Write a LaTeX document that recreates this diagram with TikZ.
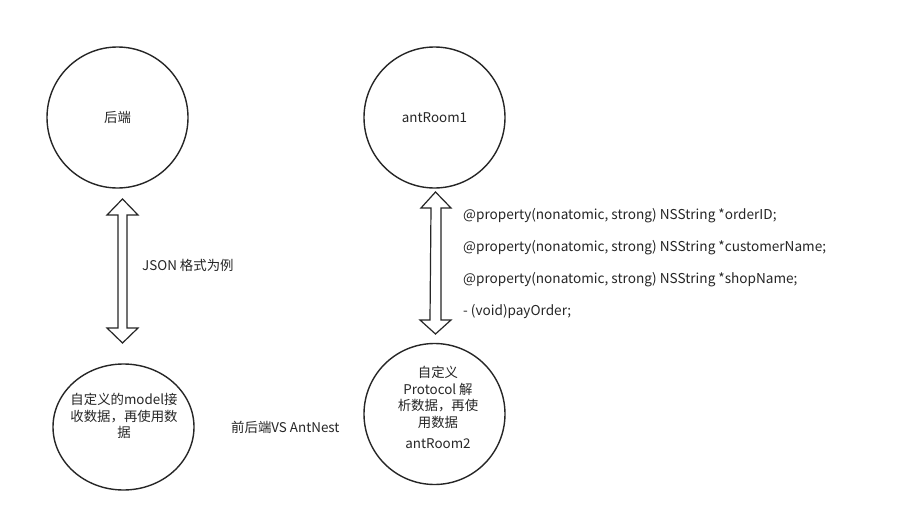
\documentclass[tikz,border=0pt]{standalone}
\usepackage{fontspec}
\usetikzlibrary{shapes.geometric}
\setmainfont{Noto Sans CJK SC}
\begin{document}
\begin{tikzpicture}[x=1pt,y=-1pt,
  circ/.style={draw=black!85,line width=1.4pt},
  lbl/.style={font=\fontsize{13.4}{16.5}\selectfont,text=black!85,align=center,inner sep=0},
  code/.style={font=\fontsize{13.6}{15}\selectfont,text=black!85,anchor=west,inner sep=0},
  dblarrow/.style={draw=black!85,line width=1.2pt,fill=white}]
\useasboundingbox (0,0) rectangle (906,522);
\fill[white] (0,0) rectangle (906,522);
\node[circ,circle,minimum size=141pt,inner sep=0] (be) at (117.5,117.5) {};
\node[lbl] at (be.center) {后端};
\node[circ,circle,minimum size=141pt,inner sep=0] (r1) at (434.5,117.5) {};
\node[lbl] at (r1.center) {antRoom1};
\node[circ,ellipse,minimum width=141pt,minimum height=126pt,inner sep=0] (md) at (123.5,427) {};
\node[lbl] (mdt) at (124,416) {自定义的model接\\收数据，再使用数\\据};
\node[circ,circle,minimum size=141pt,inner sep=0] (r2) at (434.5,414) {};
\node[lbl] (r2t) at (438,397.5) {自定义\\Protocol 解\\析数据，再使\\用数据};
\node[lbl] (r2n) at (438,444) {antRoom2};
% double arrows
\coordinate (a1t) at (122.5,199);
\coordinate (a1b) at (122.5,343);
\draw[dblarrow] (a1t) -- ++(15.5,16) -- ++(-11,0) -- (127,328) -- ++(11,0) -- (a1b) -- ++(-15.5,-15) -- ++(11,0) -- (118,215) -- ++(-11,0) -- cycle;
\coordinate (a2t) at (435.5,192);
\coordinate (a2b) at (435.5,334);
\draw[dblarrow] (a2t) -- ++(15.5,16) -- ++(-10,0) -- (441,320) -- ++(10,0) -- (a2b) -- ++(-15.5,-14) -- ++(10,0) -- (431,208) -- ++(-10,0) -- cycle;
\node[lbl,anchor=west] (json) at (142,265) {JSON 格式为例};
\node[lbl,anchor=west] (vs) at (231,427) {前后端VS AntNest};
\node[code] (c1) at (463,216) {@property(nonatomic, strong) NSString *orderID;};
\node[code] (c2) at (463,248) {@property(nonatomic, strong) NSString *customerName;};
\node[code] (c3) at (463,280) {@property(nonatomic, strong) NSString *shopName;};
\node[code] (c4) at (463,312) {- (void)payOrder;};
\end{tikzpicture}
\end{document}
